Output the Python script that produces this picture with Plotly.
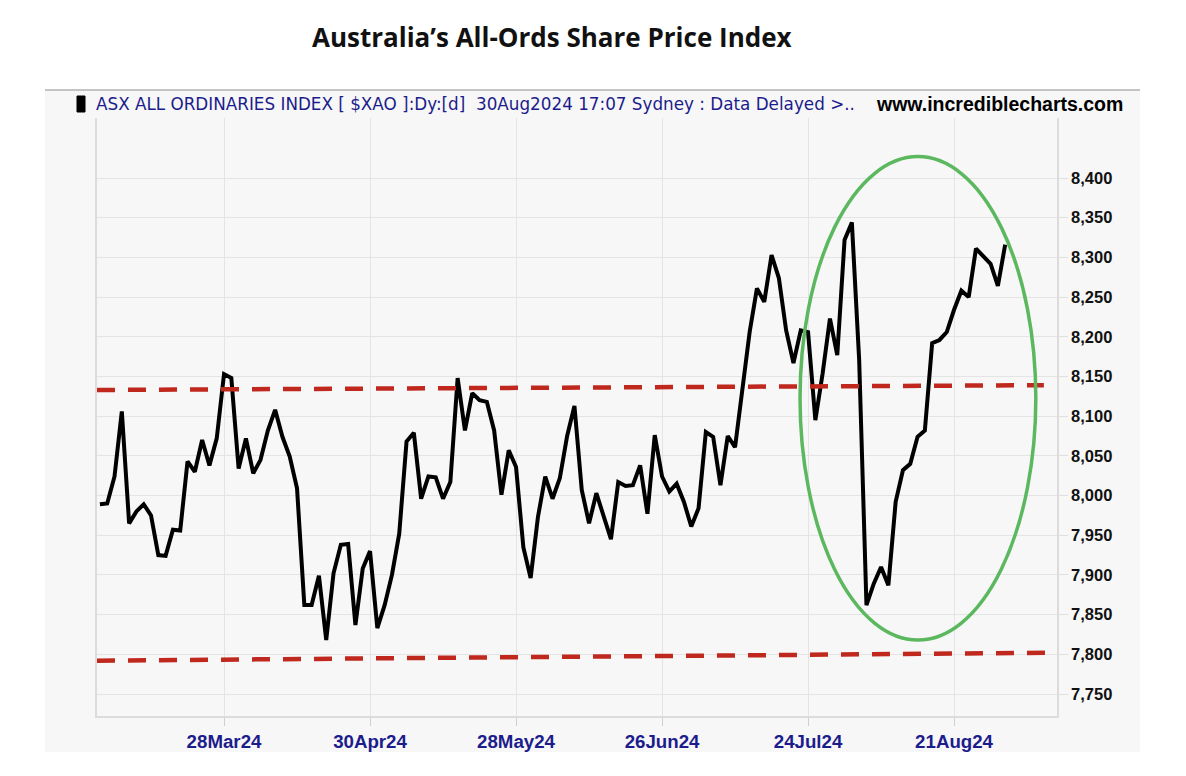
import pandas as pd
import plotly.graph_objects as go

# ---------------- data ----------------
asx_holidays = ["2024-03-29", "2024-04-01", "2024-04-25", "2024-06-10"]
trading_days = [d.strftime("%Y-%m-%d") for d in pd.bdate_range("2024-03-05", "2024-08-30")
                if d.strftime("%Y-%m-%d") not in asx_holidays]

close_values = [
    7989, 7990, 8024, 8106, 7965, 7980, 7989, 7975, 7925, 7924,
    7957, 7956, 8043, 8030, 8070, 8038, 8072, 8153, 8148, 8034,
    8072, 8028, 8045, 8082, 8108, 8074, 8049, 8009, 7862, 7862,
    7899, 7818, 7902, 7938, 7939, 7837, 7908, 7930, 7833, 7862,
    7900, 7952, 8068, 8079, 7996, 8024, 8023, 7996, 8017, 8148,
    8082, 8129, 8120, 8118, 8082, 8001, 8057, 8036, 7935, 7896,
    7973, 8024, 7996, 8022, 8075, 8113, 8007, 7965, 8003, 7973,
    7945, 8017, 8012, 8013, 8038, 7977, 8076, 8024, 8005, 8015,
    7992, 7961, 7984, 8080, 8074, 8013, 8075, 8061, 8135, 8206,
    8261, 8244, 8303, 8274, 8208, 8167, 8208, 8206, 8095, 8154,
    8223, 8177, 8322, 8344, 8171, 7862, 7889, 7910, 7887, 7992,
    8032, 8040, 8074, 8082, 8192, 8196, 8206, 8234, 8258, 8250,
    8311, 8301, 8292, 8264, 8316,
]

tick_dates = ["2024-03-28", "2024-04-30", "2024-05-28", "2024-06-26", "2024-07-24", "2024-08-21"]
tick_labels = ["28Mar24", "30Apr24", "28May24", "26Jun24", "24Jul24", "21Aug24"]
y_ticks = [7750, 7800, 7850, 7900, 7950, 8000, 8050, 8100, 8150, 8200, 8250, 8300, 8350, 8400]

resistance_line = [8133, 8139]
support_line = [7792, 7802]
highlight_ellipse_y = [7818, 8427]

title_text = "Australia’s All-Ords Share Price Index"
header_text = "ASX ALL ORDINARIES INDEX [ $XAO ]:Dy:[d]  30Aug2024 17:07 Sydney : Data Delayed >.."
site_text = "www.incrediblecharts.com"

# ---------------- figure ----------------
W, H = 1186, 776
L, R, T, B = 97, 1057, 118, 716


def px_x(p):
    return (p - L) / (R - L)


def px_y(p):
    return (B - p) / (B - T)


sans = "Liberation Sans, Arial, sans-serif"

fig = go.Figure()
fig.add_trace(go.Scatter(
    x=trading_days, y=close_values, mode="lines",
    line=dict(color="#000000", width=4), showlegend=False, hoverinfo="x+y",
))

shapes = []
# panel background
shapes.append(dict(type="rect", xref="paper", yref="paper", layer="below",
                   x0=px_x(45), x1=px_x(1140), y0=px_y(752), y1=px_y(89),
                   fillcolor="#f7f7f7", line=dict(width=0)))
# header top rule
shapes.append(dict(type="line", xref="paper", yref="paper",
                   x0=px_x(45), x1=px_x(1140), y0=px_y(90), y1=px_y(90),
                   line=dict(color="#c4c4c4", width=2)))
# icon
shapes.append(dict(type="rect", xref="paper", yref="paper",
                   x0=px_x(77), x1=px_x(85), y0=px_y(112), y1=px_y(96),
                   fillcolor="#000000", line=dict(color="#000000", width=1)))
# resistance / support dashed lines (index coordinates on category axis)
shapes.append(dict(type="line", xref="x", yref="y", x0=-0.4, x1=129.3,
                   y0=resistance_line[0], y1=resistance_line[1],
                   line=dict(color="#c0281e", width=4.5, dash="18px,13px")))
shapes.append(dict(type="line", xref="x", yref="y", x0=-0.4, x1=131.1,
                   y0=support_line[0], y1=support_line[1],
                   line=dict(color="#c0281e", width=4.5, dash="18px,13px")))
# green ellipse
shapes.append(dict(type="circle", xref="x", yref="y", x0=95.9, x1=128.2,
                   y0=highlight_ellipse_y[0], y1=highlight_ellipse_y[1],
                   line=dict(color="#5cb85f", width=3.5)))

annotations = [
    dict(text="<b>" + title_text + "</b>", xref="paper", yref="paper",
         x=px_x(552), y=px_y(37), xanchor="center", yanchor="middle", showarrow=False,
         font=dict(family="Open Sans, Lato, sans-serif", size=26, color="#111111")),
    dict(text=header_text, xref="paper", yref="paper",
         x=px_x(94), y=px_y(104), xanchor="left", yanchor="middle", showarrow=False,
         font=dict(family="DejaVu Sans, Verdana, sans-serif", size=16.8, color="#1c1c8c")),
    dict(text="<b>" + site_text + "</b>", xref="paper", yref="paper",
         x=px_x(1125), y=px_y(104), xanchor="right", yanchor="middle", showarrow=False,
         font=dict(family=sans, size=19.5, color="#000000")),
]

fig.update_layout(
    width=W, height=H,
    margin=dict(l=L, r=W - R, t=T, b=H - B),
    paper_bgcolor="#ffffff", plot_bgcolor="#f7f7f7",
    shapes=shapes, annotations=annotations, showlegend=False,
    xaxis=dict(
        type="category", range=[-0.4, 131.1],
        tickmode="array", tickvals=tick_dates, ticktext=tick_labels,
        showgrid=True, gridcolor="#e4e4e4", gridwidth=1,
        showline=True, linecolor="#dcdcdc", linewidth=1.5,
        ticks="outside", ticklen=8, tickcolor="#d0d0d0",
        tickfont=dict(family=sans, size=18.7, color="#1c1c8c", weight="bold"),
        zeroline=False, fixedrange=True,
    ),
    yaxis=dict(
        side="right", range=[7722.3, 8475.6],
        tickmode="array", tickvals=y_ticks, tickformat=",d",
        showgrid=True, gridcolor="#e4e4e4", gridwidth=1,
        showline=True, mirror=True, linecolor="#dcdcdc", linewidth=1.5,
        ticks="outside", ticklen=9, tickcolor="#e0e0e0",
        tickfont=dict(family=sans, size=16.5, color="#111111", weight="bold"),
        zeroline=False, fixedrange=True,
    ),
)

fig.write_html("out.html", config={"displayModeBar": False},
               post_script="document.body.style.margin='0px';")
